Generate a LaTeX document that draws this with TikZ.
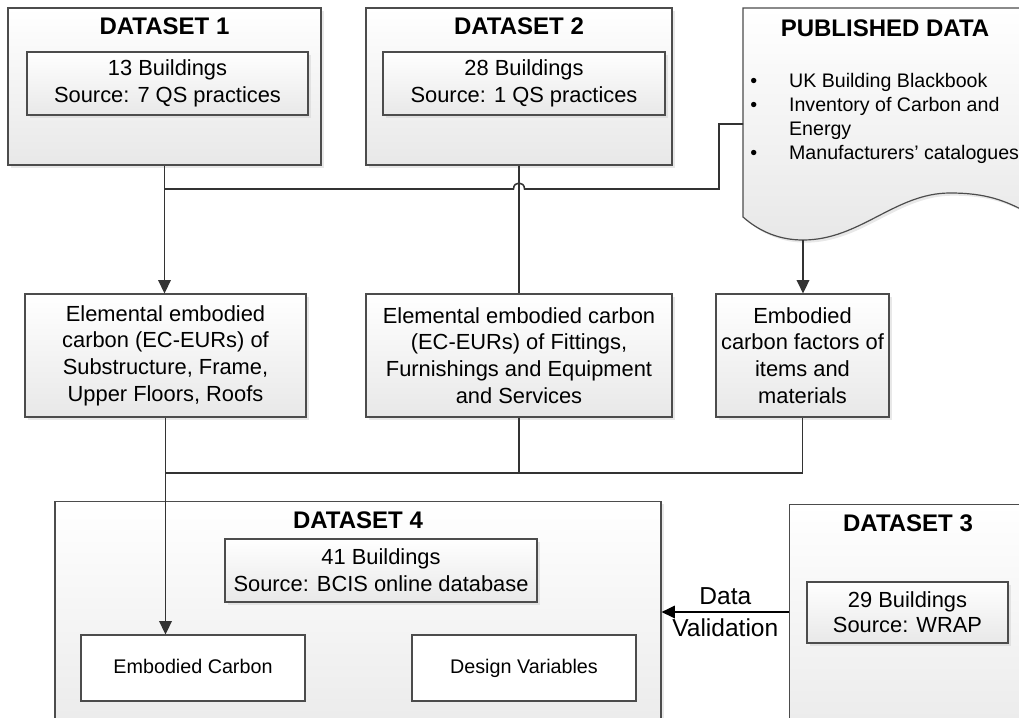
\documentclass[tikz,border=0pt]{standalone}
\usepackage{fontspec}
\setmainfont{Liberation Sans}
\usetikzlibrary{arrows.meta,positioning,calc,shadows}

\begin{document}
\begin{tikzpicture}[
    x=0.75pt, y=-0.75pt,
    panel/.style={draw=black!70, line width=0.9pt, top color=white, bottom color=black!9,
        drop shadow={shadow xshift=2pt, shadow yshift=-2pt, fill=black!18}},
    inbox/.style={panel, align=center, inner sep=0pt, font=\fontsize{16.4}{20}\selectfont},
    plain/.style={draw=black!70, line width=0.9pt, fill=white, inner sep=0pt,
        text height=10.5pt, text depth=3pt, font=\fontsize{14.8}{18}\selectfont},
    title/.style={font=\fontsize{18}{22}\selectfont\bfseries},
    link/.style={draw=black!80, line width=1.15pt},
    arr/.style={link, -{Triangle[length=10pt,width=9.5pt]}}
]
\path[use as bounding box] (0,0) rectangle (1019,717);
\clip (0,0) rectangle (1019,717);

% top row
\node[panel, minimum width=234.75pt, minimum height=117.75pt] (ds1) at (164.5,86.5) {};
\node[title] (ds1t) at (164.5,26) {DATASET 1};
\node[inbox, minimum width=210.75pt, minimum height=47.25pt] (ds1in) at (167.5,83.5) {13 Buildings\\Source: 7 QS practices};

\node[panel, minimum width=229.5pt, minimum height=117.75pt] (ds2) at (519,86.5) {};
\node[title] (ds2t) at (519,26) {DATASET 2};
\node[inbox, minimum width=211.5pt, minimum height=47.25pt] (ds2in) at (524,83.5) {28 Buildings\\Source: 1 QS practices};

% published data (document shape)
\path[panel] (743,8) -- (1030,8) -- (1030,214)
    .. controls (1005,200) and (985,193) .. (950,193)
    .. controls (895,193) and (860,240) .. (803,240)
    .. controls (780,240) and (760,232) .. (743,217) -- cycle;
\node[title] (pubt) at (885,28) {PUBLISHED DATA};
\node[anchor=north west, inner sep=0pt, font=\fontsize{14.7}{18}\selectfont] (publist) at (750,70)
    {\begin{tabular}{@{}l@{\hspace{24pt}}l@{}}
     \textbullet & UK Building Blackbook\\
     \textbullet & Inventory of Carbon and\\
                 & Energy\\
     \textbullet & Manufacturers’ catalogues
     \end{tabular}};
\coordinate (publeft) at (743,124);
\coordinate (pubbot) at (803,240);

% middle row
\node[inbox, minimum width=210.75pt, minimum height=92.25pt] (ee1) at (165.5,355.5)
    {Elemental embodied\\carbon (EC-EURs) of\\Substructure, Frame,\\Upper Floors, Roofs};
\node[inbox, minimum width=229.5pt, minimum height=92.25pt] (ee2) at (519,355.5)
    {Elemental embodied carbon\\(EC-EURs) of Fittings,\\Furnishings and Equipment\\and Services};
\node[inbox, minimum width=129.75pt, minimum height=92.25pt] (ee3) at (802.5,355.5)
    {Embodied\\carbon factors of\\items and\\materials};

% bottom row
\node[panel, anchor=north, minimum width=454.5pt, minimum height=194pt] (ds4) at (358,501) {};
\node[title] (ds4t) at (358,520) {DATASET 4};
\node[inbox, minimum width=234pt, minimum height=47.25pt] (ds4in) at (381,570.5) {41 Buildings\\Source: BCIS online database};
\node[plain, minimum width=168pt, minimum height=49.5pt] (embc) at (193,668) {Embodied Carbon};
\node[plain, minimum width=168pt, minimum height=49.5pt] (desv) at (524,668) {Design Variables};

\node[panel, anchor=north west, minimum width=178.5pt, minimum height=194pt] (ds3) at (789,504) {};
\node[title] (ds3t) at (908,523) {DATASET 3};
\node[inbox, minimum width=150.75pt, minimum height=45.75pt, font=\fontsize{16.4}{19}\selectfont] (ds3in) at (907.5,612.5) {29 Buildings\\Source: WRAP};

% connectors
\coordinate (hub1) at (164.5,189);
\coordinate (hop) at (519,189);
\coordinate (hub2) at (165.5,473);

\draw[link] (publeft) -- ++(-24,0) |- ($(hop)+(5.5,0)$)
    .. controls +(0,-8) and +(0,-8) .. ($(hop)-(5.5,0)$) -- (hub1);
\draw[arr] (ds1.south) -- (ds1.south |- ee1.north);
\draw[link] (ds2.south) -- (ds2.south |- ee2.north);
\draw[arr] (pubbot) -- (pubbot |- ee3.north);

\draw[link] (ee3.south) |- (hub2);
\draw[link] (ee2.south) -- (ee2.south |- hub2);
\draw[arr] (ee1.south) -- (ee1.south |- embc.north);

\draw[line width=0.9pt, -{Triangle[length=10pt,width=9.5pt]}] (ds3.west |- 0,612) -- (ds4.east |- 0,612)
    node[midway, align=center, font=\fontsize{18.4}{24}\selectfont] (valid) {Data\\Validation};
\end{tikzpicture}
\end{document}
